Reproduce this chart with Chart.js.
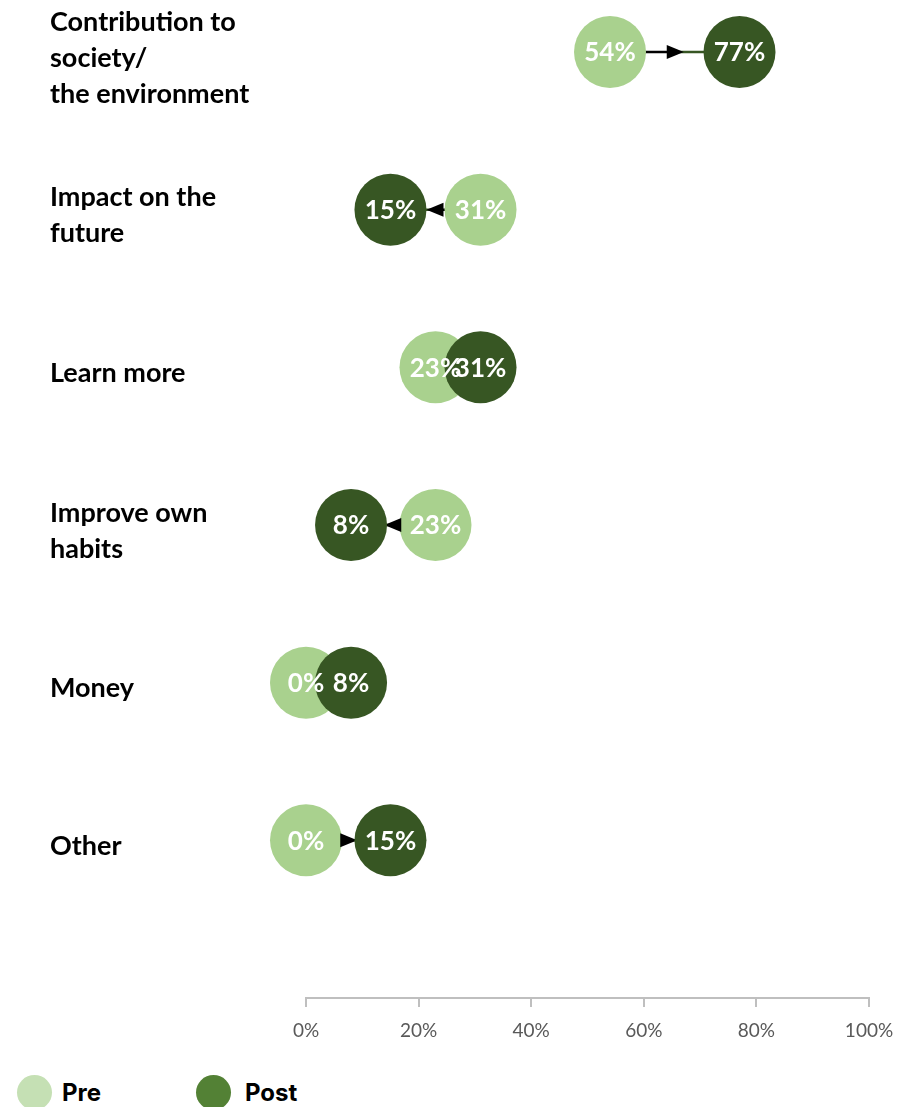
<!DOCTYPE html>
<html>
<head>
<meta charset="utf-8">
<script src="https://cdn.jsdelivr.net/npm/chart.js@4"></script>
<style>
  html, body { margin: 0; padding: 0; background: #fff; }
  #wrap { position: relative; width: 913px; height: 1107px; }
  #chart { position: absolute; left: 0; top: 0; }
  .key { position: absolute; top: 1075px; display: flex; align-items: center;
         font-family: Inter, "Noto Sans", sans-serif; font-weight: 700; font-size: 24px; color: #000; }
  .key span.dot { display: inline-block; width: 35px; height: 35px; border-radius: 50%; margin-right: 10px; }
</style>
</head>
<body>
<div id="wrap">
  <canvas id="chart" width="913" height="1045"></canvas>
  <div class="key" style="left:17px"><span class="dot" style="background:#c5e0b4"></span>Pre</div>
  <div class="key" style="left:196px"><span class="dot" style="background:#538135;margin-right:14px"></span>Post</div>
</div>
<script>
var categories = [
    ['Contribution to', 'society/', 'the environment'],
    ['Impact on the', 'future'],
    ['Learn more'],
    ['Improve own', 'habits'],
    ['Money'],
    ['Other']
];
var preValues = [54, 31, 23, 23, 0, 0];
var postValues = [77, 15, 31, 8, 8, 15];
var xTicks = [0, 20, 40, 60, 80, 100];

var PRE_COLOR = '#a9d18e';
var POST_COLOR = '#375623';
var RADIUS = 36;

function points(values) {
    return values.map(function (v, i) { return { x: v, y: i }; });
}

// category names on the left, one block per row
var rowLabels = {
    id: 'rowLabels',
    afterDraw: function (chart) {
        var ctx = chart.ctx;
        var y = chart.scales.y;
        var lh = 36;
        ctx.save();
        ctx.font = 'bold 27px Lato, "Open Sans", sans-serif';
        ctx.fillStyle = '#000';
        ctx.textAlign = 'left';
        ctx.textBaseline = 'middle';
        categories.forEach(function (lines, i) {
            var cy = y.getPixelForValue(i) + 6;
            var top = cy - (lines.length - 1) * lh / 2;
            lines.forEach(function (t, k) { ctx.fillText(t, 50, top + k * lh); });
        });
        ctx.restore();
    }
};

// connector from pre to post, arrow head at the midpoint
var connectors = {
    id: 'connectors',
    beforeDatasetsDraw: function (chart) {
        var ctx = chart.ctx;
        var xs = chart.scales.x, ys = chart.scales.y;
        ctx.save();
        ctx.lineWidth = 2.5;
        preValues.forEach(function (p, i) {
            var x0 = xs.getPixelForValue(p), x1 = xs.getPixelForValue(postValues[i]);
            var yy = ys.getPixelForValue(i), mid = (x0 + x1) / 2;
            ctx.strokeStyle = '#000';
            ctx.beginPath(); ctx.moveTo(x0, yy); ctx.lineTo(mid, yy); ctx.stroke();
            ctx.strokeStyle = POST_COLOR;
            ctx.beginPath(); ctx.moveTo(mid, yy); ctx.lineTo(x1, yy); ctx.stroke();
        });
        ctx.restore();
    },
    afterDatasetDraw: function (chart, args) {
        if (chart.data.datasets[args.index].label !== 'Pre') return;
        var ctx = chart.ctx;
        var xs = chart.scales.x, ys = chart.scales.y;
        ctx.save();
        ctx.fillStyle = '#000';
        preValues.forEach(function (p, i) {
            var x0 = xs.getPixelForValue(p), x1 = xs.getPixelForValue(postValues[i]);
            var yy = ys.getPixelForValue(i), mid = (x0 + x1) / 2;
            var dir = x1 >= x0 ? 1 : -1;
            ctx.beginPath();
            ctx.moveTo(mid + dir * 9, yy);
            ctx.lineTo(mid - dir * 8, yy - 7);
            ctx.lineTo(mid - dir * 8, yy + 7);
            ctx.closePath();
            ctx.fill();
        });
        ctx.restore();
    }
};

// percentages written inside the circles
var valueLabels = {
    id: 'valueLabels',
    afterDatasetsDraw: function (chart) {
        var ctx = chart.ctx;
        ctx.save();
        ctx.font = 'bold 26px Lato, "Open Sans", sans-serif';
        ctx.fillStyle = '#fff';
        ctx.textAlign = 'center';
        ctx.textBaseline = 'middle';
        chart.data.datasets.forEach(function (ds, di) {
            var meta = chart.getDatasetMeta(di);
            meta.data.forEach(function (pt, i) {
                ctx.fillText(ds.data[i].x + '%', pt.x, pt.y + 1);
            });
        });
        ctx.restore();
    }
};

new Chart(document.getElementById('chart'), {
    type: 'scatter',
    data: {
        datasets: [
            {
                label: 'Post',
                data: points(postValues),
                backgroundColor: POST_COLOR,
                borderWidth: 0,
                pointRadius: RADIUS,
                pointHoverRadius: RADIUS,
                order: 0
            },
            {
                label: 'Pre',
                data: points(preValues),
                backgroundColor: PRE_COLOR,
                borderWidth: 0,
                pointRadius: RADIUS,
                pointHoverRadius: RADIUS,
                order: 1
            }
        ]
    },
    options: {
        responsive: false,
        animation: false,
        events: [],
        clip: false,
        layout: { autoPadding: false, padding: { left: 306, right: 44, top: 0, bottom: 0 } },
        plugins: { legend: { display: false }, tooltip: { enabled: false } },
        scales: {
            x: {
                type: 'linear',
                min: 0,
                max: 100,
                afterBuildTicks: function (s) { s.ticks = xTicks.map(function (v) { return { value: v }; }); },
                afterFit: function (s) { s.height = 47; },
                border: { display: true, color: '#bfbfbf', width: 2 },
                grid: { display: true, drawOnChartArea: false, drawTicks: true, tickLength: 9, color: '#bfbfbf', lineWidth: 2 },
                ticks: {
                    color: '#595959',
                    padding: 12,
                    font: { family: 'Lato, "Open Sans", sans-serif', size: 19 },
                    callback: function (v) { return v + '%'; }
                }
            },
            y: {
                type: 'linear',
                display: false,
                reverse: true,
                min: -0.33,
                max: 6
            }
        }
    },
    plugins: [rowLabels, connectors, valueLabels]
});
</script>
</body>
</html>
